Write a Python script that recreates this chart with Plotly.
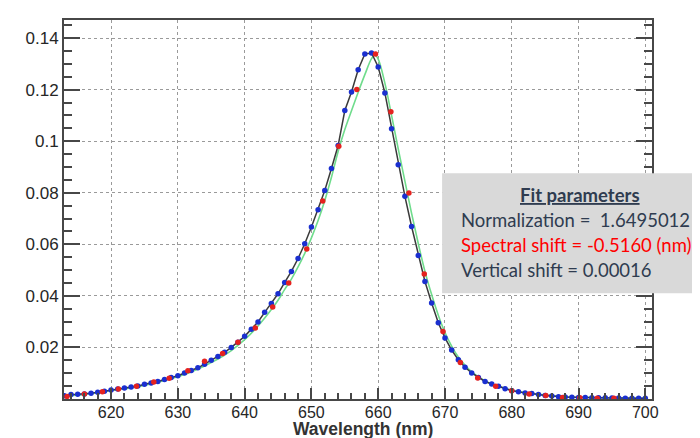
import plotly.graph_objects as go

# ---- data ----
blue_x = list(range(613, 701))
blue_y = [0.0013, 0.0017, 0.0018, 0.0019, 0.0022, 0.0026, 0.0030, 0.0035, 0.0039, 0.0043,
          0.0047, 0.0050, 0.0057, 0.0062, 0.0068, 0.0076, 0.0083, 0.0090, 0.0101, 0.0111,
          0.0121, 0.0135, 0.0150, 0.0165, 0.0181, 0.0200, 0.0220, 0.0243, 0.0271, 0.0299,
          0.0336, 0.0370, 0.0408, 0.0452, 0.0495, 0.0545, 0.0602, 0.0667, 0.0734, 0.0809,
          0.0894, 0.0983, 0.1119, 0.1191, 0.1277, 0.1338, 0.1342, 0.1288, 0.1187, 0.1048,
          0.0909, 0.0786, 0.0669, 0.0557, 0.0456, 0.0372, 0.0296, 0.0237, 0.0190, 0.0152,
          0.0123, 0.0101, 0.0083, 0.0068, 0.0058, 0.0049, 0.0040, 0.0032, 0.0028, 0.0023,
          0.0021, 0.0017, 0.0014, 0.0012, 0.0009, 0.0008, 0.0007, 0.0006, 0.0006, 0.0005,
          0.0005, 0.0005, 0.0004, 0.0004, 0.0003, 0.0003, 0.0003, 0.0003]

red_x = [613.4, 616.0, 618.7, 621.1, 623.8, 626.4, 628.7, 631.5, 634.0, 636.7, 639.0,
         641.6, 644.2, 646.6, 649.3, 651.7, 654.1, 656.8, 659.6, 661.9, 664.6, 666.9,
         669.7, 672.3, 674.9, 677.6, 680.0, 682.6, 685.1, 687.6, 690.2, 692.8, 695.3]
red_y = [0.0010, 0.0019, 0.0028, 0.0039, 0.0049, 0.0066, 0.0080, 0.0110, 0.0146, 0.0176, 0.0220,
         0.0275, 0.0357, 0.0450, 0.0582, 0.0768, 0.0980, 0.1200, 0.1338, 0.1114, 0.0799, 0.0485,
         0.0262, 0.0142, 0.0081, 0.0049, 0.0032, 0.0019, 0.0014, 0.0006, 0.0005, 0.0003, 0.0003]

green_x = [613, 616, 620, 624, 628, 632, 636, 638, 640, 642, 644, 645, 646, 647, 648, 649,
           650, 651, 652, 653, 654, 655, 656, 657, 658, 659, 659.5, 660, 661, 662, 663, 664,
           665, 666, 667, 668, 669, 670, 671, 672, 674, 676, 678, 680, 684, 688, 692, 696, 700]
green_y = [0.0012, 0.0018, 0.0033, 0.0048, 0.0072, 0.0105, 0.0155, 0.0188, 0.0230, 0.0283,
           0.0347, 0.0383, 0.0425, 0.0465, 0.0512, 0.0565, 0.0625, 0.0692, 0.0770, 0.0860,
           0.0960, 0.1045, 0.1118, 0.1190, 0.1258, 0.1320, 0.1334, 0.1318, 0.1225, 0.1100,
           0.0970, 0.0845, 0.0720, 0.0603, 0.0495, 0.0405, 0.0325, 0.0258, 0.0205, 0.0163,
           0.0105, 0.0070, 0.0050, 0.0034, 0.0018, 0.0009, 0.0006, 0.0004, 0.0003]

y_tickvals = [0.02, 0.04, 0.06, 0.08, 0.10, 0.12, 0.14]
y_ticktext = ["0.02", "0.04", "0.06", "0.08", "0.1", "0.12", "0.14"]

x_title = "<b>Wavelength (nm)</b>"
box_title = "Fit parameters"
box_lines = ["Normalization =  1.6495012",
             "Spectral shift = -0.5160 (nm)",
             "Vertical shift = 0.00016"]
box_colors = ["#2f3c50", "#ff0000", "#2f3c50"]

fig = go.Figure()
fig.add_trace(go.Scatter(x=green_x, y=green_y, mode="lines",
                         line=dict(color="#6fdc8c", width=1.6, shape="spline"),
                         showlegend=False, hoverinfo="skip"))
fig.add_trace(go.Scatter(x=blue_x, y=blue_y, mode="lines",
                         line=dict(color="#3a3a3a", width=1.5),
                         showlegend=False))
fig.add_trace(go.Scatter(x=blue_x, y=blue_y, mode="markers",
                         marker=dict(color="#1a2fd0", size=5.5),
                         showlegend=False))
fig.add_trace(go.Scatter(x=red_x, y=red_y, mode="markers",
                         marker=dict(color="#e5221f", size=5.5),
                         showlegend=False))

axis_common = dict(
    automargin=False,
    showline=True, linecolor="#474747", linewidth=2, mirror=True,
    showgrid=True, gridcolor="#9a9a9a", griddash="dot", gridwidth=1,
    zeroline=False, ticks="inside", tickcolor="#474747", tickwidth=1.5,
)

fig.update_xaxes(**axis_common, range=[612.95, 701.0], dtick=10, tick0=0, ticklen=11,
                 ticklabelstandoff=-2,
                 tickfont=dict(family="Liberation Sans, Arial", size=16, color="#262626"),
                 minor=dict(dtick=2, ticks="inside", ticklen=6, tickcolor="#474747",
                            showgrid=False))
fig.update_yaxes(**axis_common, range=[0, 0.147], tickvals=y_tickvals, ticktext=y_ticktext,
                 ticklen=16, ticklabelstandoff=0,
                 tickfont=dict(family="Liberation Sans, Arial", size=17, color="#262626"),
                 minor=dict(dtick=0.005, ticks="inside", ticklen=8, tickcolor="#474747",
                            showgrid=False))
fig.update_yaxes(mirror="ticks")

# x-axis title
fig.add_annotation(xref="paper", yref="paper", x=0.5085, y=-0.079, text=x_title,
                   showarrow=False, xanchor="center", yanchor="middle",
                   font=dict(family="Liberation Sans, Arial", size=17.5, color="#333333"))

# Fit-parameter box
fig.add_shape(type="rect", xref="paper", yref="paper",
              x0=0.643, x1=1.10, y0=0.2793, y1=0.5955,
              fillcolor="#d9d9d9", line=dict(width=0), layer="above")
fig.add_annotation(xref="paper", yref="paper", x=0.8776, y=0.5375,
                   text="<b><u>" + box_title + "</u></b>", showarrow=False,
                   xanchor="center", yanchor="middle",
                   font=dict(family="Lato", size=18.5, color="#2f3c50"))
for i, (t, c) in enumerate(zip(box_lines, box_colors)):
    fig.add_annotation(xref="paper", yref="paper", x=0.672, y=0.4717 - i * 0.0659,
                       text=t, showarrow=False, xanchor="left", yanchor="middle",
                       font=dict(family="Lato", size=18.5, color=c))

# page body has an 8 px margin, so the figure is 692x430 placed at (8, 8)
fig.update_layout(width=692, height=430, margin=dict(l=56, r=48, t=12, b=39),
                  paper_bgcolor="white", plot_bgcolor="white")
fig.write_html("out.html")
